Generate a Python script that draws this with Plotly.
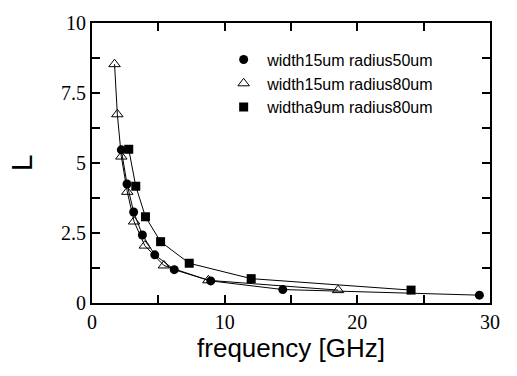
import plotly.graph_objects as go
from plotly.subplots import make_subplots

# Data
freq_w15_r50 = [2.21, 2.64, 3.14, 3.80, 4.73, 6.20, 8.95, 14.38, 29.2]
L_w15_r50 = [5.47, 4.25, 3.25, 2.43, 1.72, 1.19, 0.79, 0.48, 0.28]

freq_w15_r80 = [1.70, 1.91, 2.21, 2.66, 3.17, 3.98, 5.42, 8.77, 18.55]
L_w15_r80 = [8.53, 6.74, 5.23, 3.97, 2.91, 2.05, 1.34, 0.81, 0.46]

freq_w9_r80 = [2.77, 3.30, 4.03, 5.17, 7.33, 12.0, 24.05]
L_w9_r80 = [5.49, 4.17, 3.08, 2.19, 1.42, 0.87, 0.46]

names = ["width15um radius50um", "width15um radius80um", "widtha9um radius80um"]
x_ticks = [0, 5, 10, 15, 20, 25, 30]
x_tick_text = ["0", "", "10", "", "20", "", "30"]
y_ticks = [0, 1.25, 2.5, 3.75, 5, 6.25, 7.5, 8.75, 10]
y_tick_text = ["0", "", "2.5", "", "5", "", "7.5", "", "10"]

ink = "black"

series = [
    (freq_w15_r50, L_w15_r50, dict(symbol="circle", size=9, color=ink)),
    (freq_w15_r80, L_w15_r80, dict(symbol="triangle-up-open", size=10, color=ink)),
    (freq_w9_r80, L_w9_r80, dict(symbol="square", size=9, color=ink)),
]

fig = make_subplots(rows=1, cols=1)
for (x, y, m), n in zip(series, names):
    fig.add_trace(go.Scatter(x=x, y=y, mode="lines+markers", marker=m, cliponaxis=False,
                             line=dict(color=ink, width=1), showlegend=False), row=1, col=1)
for (x, y, m), n in zip(series, names):
    fig.add_trace(go.Scatter(x=[None], y=[None], mode="markers", marker=m, name=n), row=1, col=1)

base = dict(ticks="inside", ticklen=8, tickwidth=1.5, tickcolor="black",
            tickfont=dict(family="Times New Roman", size=20, color="black"))

fig.update_xaxes(row=1, col=1, **base,
                 showline=True, linecolor=ink, linewidth=2, mirror="allticks",
                 tickmode="array", tickvals=x_ticks, ticktext=x_tick_text,
                 showgrid=False, zeroline=False, range=[0, 30],
                 title=dict(text="frequency [GHz]", font=dict(family="Liberation Sans", size=26, color=ink), standoff=6))
fig.update_yaxes(row=1, col=1, **base,
                 showline=True, linecolor=ink, linewidth=2, mirror="allticks",
                 tickmode="array", tickvals=y_ticks, ticktext=y_tick_text,
                 showgrid=False, zeroline=False, range=[0, 10],
                 title=dict(text="L", font=dict(family="Liberation Sans", size=30, color=ink), standoff=20))

fig.update_layout(width=517, height=376, margin=dict(l=92, r=27, t=20, b=73),
                  plot_bgcolor="white", paper_bgcolor="white",
                  legend=dict(x=0.322, y=0.93, xanchor="left", yanchor="top",
                              font=dict(family="Liberation Sans", size=16, color=ink), itemwidth=37))

fig.write_html("out.html", config={"displayModeBar": False},
               post_script="document.body.style.margin='0';")
